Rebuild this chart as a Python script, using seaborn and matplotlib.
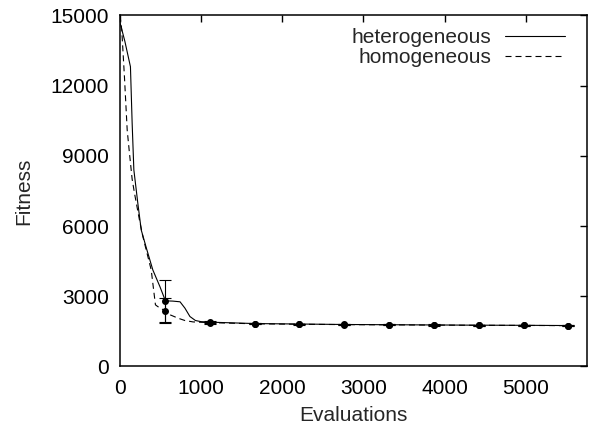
import numpy as np
import pandas as pd
import matplotlib
matplotlib.use("Agg")
import matplotlib.pyplot as plt
import seaborn as sns

# --- courbes (lissees) ---
het_x = [0, 60, 129, 150, 171, 220, 262, 330, 405, 492, 560, 650, 740, 800, 862, 930, 1000, 1105,
         1658, 2210, 2763, 3315, 3868, 4420, 4973, 5525]
het_y = [14700, 13900, 12810, 10400, 8400, 6970, 5830, 5000, 4120, 3410, 2800, 2790, 2760, 2490, 2130, 1960, 1910, 1890,
         1830, 1810, 1790, 1780, 1770, 1760, 1755, 1745]

hom_x = [0, 22, 55, 89, 117, 150, 179, 240, 282, 385, 437, 466, 553, 620, 715, 800, 900, 1105,
         1658, 2210, 2763, 3315, 3868, 4420, 4973, 5525]
hom_y = [15000, 14380, 12380, 10100, 9110, 8000, 7400, 6260, 5550, 4120, 2630, 2555, 2380, 2200, 2060, 1960, 1900, 1870,
         1820, 1800, 1785, 1775, 1765, 1755, 1750, 1740]

# --- points avec barres d'erreur ---
pts_x = [553, 1105, 1658, 2210, 2763, 3315, 3868, 4420, 4973, 5525]
het_pts = [2780, 1890, 1830, 1810, 1790, 1780, 1770, 1760, 1755, 1745]
het_err = [900, 40, 25, 20, 20, 20, 20, 20, 20, 20]
hom_pts = [2380, 1870, 1820, 1800, 1785, 1775, 1765, 1755, 1750, 1740]
hom_err = [530, 40, 25, 20, 20, 20, 20, 20, 20, 20]

sns.set_theme(style="white")
plt.rcParams["font.family"] = ["Liberation Sans", "DejaVu Sans"]
plt.rcParams["axes.edgecolor"] = "black"
plt.rcParams["axes.linewidth"] = 1.1

fig = plt.figure(figsize=(5.91, 4.30), dpi=100)
ax = fig.add_axes([0.203, 0.148, 0.791, 0.816])

df_het = pd.DataFrame({"Evaluations": het_x, "Fitness": het_y})
df_hom = pd.DataFrame({"Evaluations": hom_x, "Fitness": hom_y})

sns.lineplot(data=df_het, x="Evaluations", y="Fitness", ax=ax, color="black", lw=0.8,
             sort=False, label="heterogeneous")
sns.lineplot(data=df_hom, x="Evaluations", y="Fitness", ax=ax, color="black", lw=0.8,
             sort=False, label="homogeneous", linestyle=(0, (5.4, 3.6)))

ax.errorbar(pts_x, het_pts, yerr=het_err, fmt="o", color="black", ms=4, lw=0.8,
            capsize=4, capthick=0.8)
ax.errorbar(pts_x, hom_pts, yerr=hom_err, fmt="o", color="black", ms=4, lw=0.8,
            capsize=4, capthick=0.8)

ax.set_xlim(0, 5760)
ax.set_ylim(0, 15000)
ax.set_xticks(range(0, 5001, 1000))
ax.set_yticks(range(0, 15001, 3000))
ax.tick_params(direction="in", length=5, width=1.0, top=True, right=True,
               labelsize=15, colors="black")
ax.tick_params(axis="x", pad=9)
ax.tick_params(axis="y", pad=8)
ax.set_xlabel("Evaluations", fontsize=15, labelpad=6)
ax.set_ylabel("Fitness", fontsize=15, labelpad=12)

ax.legend(loc="upper right", bbox_to_anchor=(0.952, 0.963), frameon=False, fontsize=15,
          markerfirst=False, handlelength=2.9, handletextpad=0.62, labelspacing=0.04,
          borderaxespad=0, borderpad=0)

plt.savefig("out.png", dpi=100)
